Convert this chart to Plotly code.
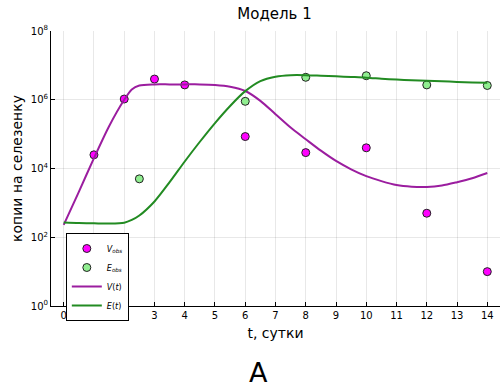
import plotly.graph_objects as go

# Observed data
t_v_obs = [1, 2, 3, 4, 6, 8, 10, 12, 14]
v_obs = [2.5e4, 1.05e6, 4.0e6, 2.7e6, 8.5e4, 2.9e4, 4.0e4, 5.0e2, 1.0e1]
t_e_obs = [2.5, 6, 8, 10, 12, 14]
e_obs = [5.0e3, 9.0e5, 4.5e6, 5.0e6, 2.7e6, 2.6e6]

# Model curves
t_model = [0, 0.5, 1, 1.5, 2, 2.25, 2.5, 3, 3.5, 4, 4.5, 5, 5.5, 6, 6.5, 7, 7.5, 8, 8.5,
           9, 9.5, 10, 10.5, 11, 11.5, 12, 12.5, 13, 13.5, 14]
v_model = [2.3e2, 2.1e3, 2.0e4, 1.7e5, 1.0e6, 2.0e6, 2.6e6, 2.8e6, 2.8e6, 2.8e6, 2.8e6,
           2.7e6, 2.4e6, 1.8e6, 9.3e5, 3.8e5, 1.55e5, 7.1e4, 3.3e4, 1.66e4, 9.5e3,
           6.0e3, 4.3e3, 3.3e3, 2.95e3, 2.9e3, 3.2e3, 4.0e3, 5.2e3, 7.4e3]
e_model = [2.7e2, 2.6e2, 2.55e2, 2.5e2, 2.65e2, 3.2e2, 4.3e2, 1.1e3, 4.0e3, 1.6e4,
           6.0e4, 2.1e5, 6.6e5, 1.78e6, 3.5e6, 4.7e6, 5.2e6, 5.2e6, 5.0e6, 4.8e6, 4.6e6,
           4.4e6, 4.1e6, 3.85e6, 3.7e6, 3.55e6, 3.45e6, 3.3e6, 3.2e6, 3.1e6]

x_ticks = list(range(0, 15))
y_tickvals = [1, 1e2, 1e4, 1e6, 1e8]
y_ticktext = ["10<sup>0</sup>", "10<sup>2</sup>", "10<sup>4</sup>", "10<sup>6</sup>", "10<sup>8</sup>"]

fig = go.Figure()
fig.add_trace(go.Scatter(x=t_v_obs, y=v_obs, mode="markers", name="<i>V<sub>obs</sub></i>",
                         marker=dict(color="#ff00ff", size=8, line=dict(color="#222", width=1))))
fig.add_trace(go.Scatter(x=t_e_obs, y=e_obs, mode="markers", name="<i>E<sub>obs</sub></i>",
                         marker=dict(color="#90ee90", size=8, line=dict(color="#222", width=1))))
fig.add_trace(go.Scatter(x=t_model, y=v_model, mode="lines", name="<i>V</i>(<i>t</i>)",
                         line=dict(color="#9b1d9f", width=2, shape="spline", smoothing=0.8)))
fig.add_trace(go.Scatter(x=t_model, y=e_model, mode="lines", name="<i>E</i>(<i>t</i>)",
                         line=dict(color="#228b22", width=2, shape="spline", smoothing=0.8)))

axis_common = dict(showline=True, linecolor="black", linewidth=1, ticks="inside", ticklen=4,
                   tickcolor="black", showgrid=True, gridcolor="rgba(0,0,0,0.09)", gridwidth=1,
                   zeroline=False, mirror=False,
                   tickfont=dict(size=10, color="black", family="DejaVu Sans"),
                   title_font=dict(size=14, color="black", family="DejaVu Sans"))

fig.update_layout(
    width=500, height=387,
    margin=dict(l=51, r=0, t=31, b=81),
    paper_bgcolor="white", plot_bgcolor="white",
    font=dict(family="DejaVu Sans", color="black"),
    title=dict(text="Модель 1", x=(51 + 500) / 2 / 500 - 0.002, xanchor="center", y=1 - 14 / 387,
               yanchor="middle", font=dict(size=15, color="black", family="DejaVu Sans")),
    xaxis=dict(range=[-0.42, 14.42], tickvals=x_ticks, title=dict(text="t, сутки", standoff=8),
               **axis_common),
    yaxis=dict(type="log", range=[0, 8], tickvals=y_tickvals, ticktext=y_ticktext,
               title=dict(text="копии на селезенку", standoff=4), **axis_common),
    legend=dict(x=0.033, y=(306 - 233) / 275, xanchor="left", yanchor="top", bgcolor="white",
                bordercolor="black", borderwidth=1, font=dict(size=8, family="DejaVu Sans"),
                itemwidth=30, tracegroupgap=0),
    showlegend=True,
)
fig.add_annotation(text="A", xref="paper", yref="paper", x=(258 - 51) / 449, y=-(372 - 306) / 275,
                   showarrow=False, font=dict(size=27, color="black", family="DejaVu Sans"),
                   xanchor="center", yanchor="middle")

fig.write_html("out.html")
